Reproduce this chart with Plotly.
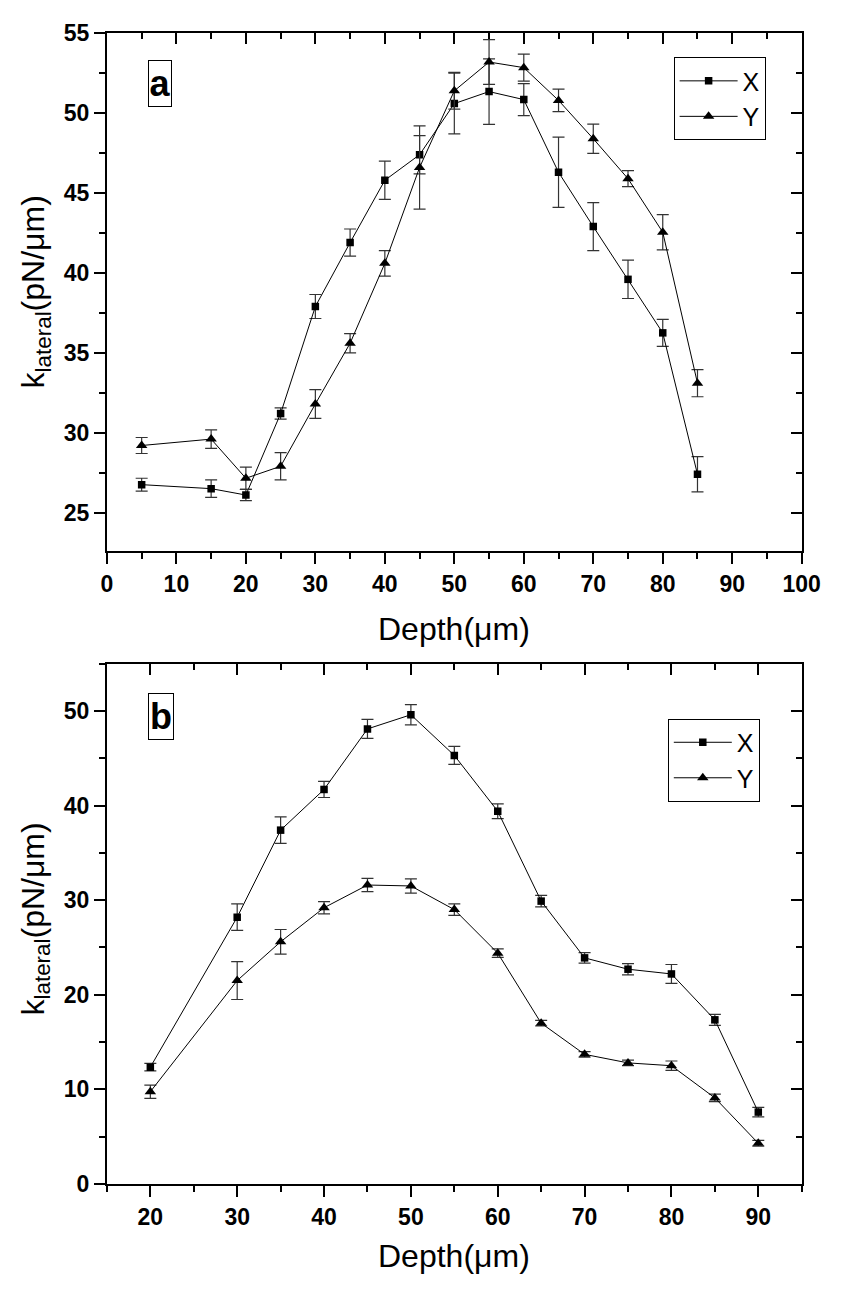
import plotly.graph_objects as go

W, H = 844, 1293

# ---- Panel a data ----
depth_a = [5, 15, 20, 25, 30, 35, 40, 45, 50, 55, 60, 65, 70, 75, 80, 85]
kx_a = [26.75, 26.5, 26.1, 31.2, 37.9, 41.9, 45.8, 47.4, 50.6, 51.35, 50.85, 46.3, 42.9, 39.6, 36.25, 27.4]
kx_a_err = [0.4, 0.55, 0.35, 0.35, 0.75, 0.85, 1.2, 1.2, 1.9, 2.05, 1.0, 2.2, 1.5, 1.2, 0.85, 1.1]
ky_a = [29.2, 29.6, 27.15, 27.9, 31.8, 35.6, 40.6, 46.6, 51.4, 53.2, 52.85, 50.8, 48.4, 45.9, 42.55, 33.1]
ky_a_err = [0.5, 0.58, 0.7, 0.85, 0.9, 0.6, 0.8, 2.6, 1.15, 1.4, 0.85, 0.7, 0.92, 0.5, 1.1, 0.85]

# ---- Panel b data ----
depth_b = [20, 30, 35, 40, 45, 50, 55, 60, 65, 70, 75, 80, 85, 90]
kx_b = [12.35, 28.2, 37.4, 41.7, 48.1, 49.6, 45.3, 39.4, 29.9, 23.9, 22.7, 22.2, 17.35, 7.6]
kx_b_err = [0.4, 1.4, 1.4, 0.85, 1.0, 1.07, 0.95, 0.78, 0.6, 0.55, 0.6, 1.0, 0.58, 0.5]
ky_b = [9.75, 21.5, 25.6, 29.2, 31.6, 31.5, 29.0, 24.4, 17.0, 13.7, 12.8, 12.5, 9.1, 4.3]
ky_b_err = [0.7, 2.0, 1.3, 0.65, 0.7, 0.75, 0.6, 0.45, 0.3, 0.3, 0.3, 0.5, 0.4, 0.3]

xticks_a = [0, 10, 20, 30, 40, 50, 60, 70, 80, 90, 100]
yticks_a = [25, 30, 35, 40, 45, 50, 55]
xticks_b = [20, 30, 40, 50, 60, 70, 80, 90]
yticks_b = [0, 10, 20, 30, 40, 50]

TXTFONT = "Liberation Sans, Arial, sans-serif"
TICKFONT = dict(family=TXTFONT, size=23, color="black", weight="bold")

def px_x(p):
    return p / W

def px_y(p):
    return 1 - p / H

fig = go.Figure()

def add_series(x, y, err, name, symbol, msize, xa, ya, legend):
    fig.add_trace(go.Scatter(
        x=x, y=y, name=name, mode="lines+markers",
        line=dict(color="black", width=1),
        marker=dict(symbol=symbol, size=msize, color="black"),
        error_y=dict(type="data", array=err, visible=True, color="#333", thickness=1.2, width=6),
        xaxis=xa, yaxis=ya, legend=legend,
    ))

add_series(depth_a, kx_a, kx_a_err, "X", "square", 7.5, "x", "y", "legend")
add_series(depth_a, ky_a, ky_a_err, "Y", "triangle-up", 10, "x", "y", "legend")
add_series(depth_b, kx_b, kx_b_err, "X", "square", 7.5, "x2", "y2", "legend2")
add_series(depth_b, ky_b, ky_b_err, "Y", "triangle-up", 10, "x2", "y2", "legend2")

xdom = [px_x(104), px_x(820)]
ydom_a = [px_y(549), px_y(20.7)]
ydom_b = [px_y(1195), px_y(664)]

def main_axis(rng, tickvals, dtick_minor, domain, anchor):
    return dict(
        range=rng, domain=domain, anchor=anchor, tickmode="array", tickvals=tickvals,
        ticks="outside", ticklen=11, tickwidth=2, tickcolor="black",
        showline=True, linewidth=2, linecolor="black", showgrid=False, zeroline=False,
        tickfont=TICKFONT,
        minor=dict(ticks="outside", ticklen=6, tickwidth=2, tickcolor="black", dtick=dtick_minor, showgrid=False),
    )

def mirror_axis(rng, tickvals, dtick_minor, domain, anchor, side, overlaying):
    return dict(
        range=rng, domain=domain, anchor=anchor, side=side, overlaying=overlaying,
        tickmode="array", tickvals=tickvals, showticklabels=False,
        ticks="inside", ticklen=11, tickwidth=2, tickcolor="black",
        showline=True, linewidth=2, linecolor="black", showgrid=False, zeroline=False,
        minor=dict(ticks="inside", ticklen=6, tickwidth=2, tickcolor="black", dtick=dtick_minor, showgrid=False),
    )

LEGFONT = dict(family=TXTFONT, size=25, color="black")

fig.update_layout(
    width=W, height=H, margin=dict(l=0, r=0, t=0, b=0),
    paper_bgcolor="white", plot_bgcolor="white",
    showlegend=True,
    xaxis=dict(main_axis([0, 100], xticks_a, 5, xdom, "y"), tick0=0),
    yaxis=dict(main_axis([22.6, 55], yticks_a, 2.5, ydom_a, "x"), tick0=0),
    xaxis2=dict(main_axis([15, 95], xticks_b, 5, xdom, "y2"), tick0=15),
    yaxis2=dict(main_axis([0, 55], yticks_b, 5, ydom_b, "x2"), tick0=0),
    xaxis3=dict(mirror_axis([0, 100], xticks_a, 5, xdom, "y", "top", "x"), tick0=0),
    yaxis3=dict(mirror_axis([22.6, 55], yticks_a, 2.5, ydom_a, "x", "right", "y"), tick0=0),
    xaxis4=dict(mirror_axis([15, 95], xticks_b, 5, xdom, "y2", "top", "x2"), tick0=15),
    yaxis4=dict(mirror_axis([0, 55], yticks_b, 5, ydom_b, "x2", "right", "y2"), tick0=0),
    legend=dict(x=px_x(688), y=px_y(45), xanchor="left", yanchor="top",
                bordercolor="black", borderwidth=1, bgcolor="white",
                font=LEGFONT, itemwidth=58, tracegroupgap=0),
    legend2=dict(x=px_x(682), y=px_y(720), xanchor="left", yanchor="top",
                 bordercolor="black", borderwidth=1, bgcolor="white",
                 font=LEGFONT, itemwidth=58, tracegroupgap=0),
)

# invisible traces so the mirrored frame axes get drawn
for xa, ya in [("x3", "y"), ("x", "y3"), ("x4", "y2"), ("x2", "y4")]:
    fig.add_trace(go.Scatter(x=[None], y=[None], xaxis=xa, yaxis=ya, showlegend=False, hoverinfo="skip"))

TITLEFONT = dict(family=TXTFONT, size=32, color="black")
annots = [
    dict(text="Depth(μm)", x=px_x(462), y=px_y(629), font=TITLEFONT),
    dict(text="Depth(μm)", x=px_x(462), y=px_y(1268), font=TITLEFONT),
    dict(text="k<sub>lateral</sub>(pN/μm)", x=px_x(30), y=px_y(285), textangle=-90, font=TITLEFONT),
    dict(text="k<sub>lateral</sub>(pN/μm)", x=px_x(30), y=px_y(925), textangle=-90, font=TITLEFONT),
    dict(text="<b>a</b>", x=px_x(158.5), y=px_y(72), width=22, height=45, bordercolor="black", borderwidth=1,
         borderpad=0, font=dict(family=TXTFONT, size=36, color="black")),
    dict(text="<b>b</b>", x=px_x(159.5), y=px_y(717.5), width=24, height=45, bordercolor="black", borderwidth=1,
         borderpad=0, font=dict(family=TXTFONT, size=36, color="black")),
]
for a in annots:
    a.update(xref="paper", yref="paper", showarrow=False, xanchor="center", yanchor="middle")
    fig.add_annotation(**a)

fig.write_html("out.html", config={"displayModeBar": False},
               post_script="document.body.style.margin='0';")
